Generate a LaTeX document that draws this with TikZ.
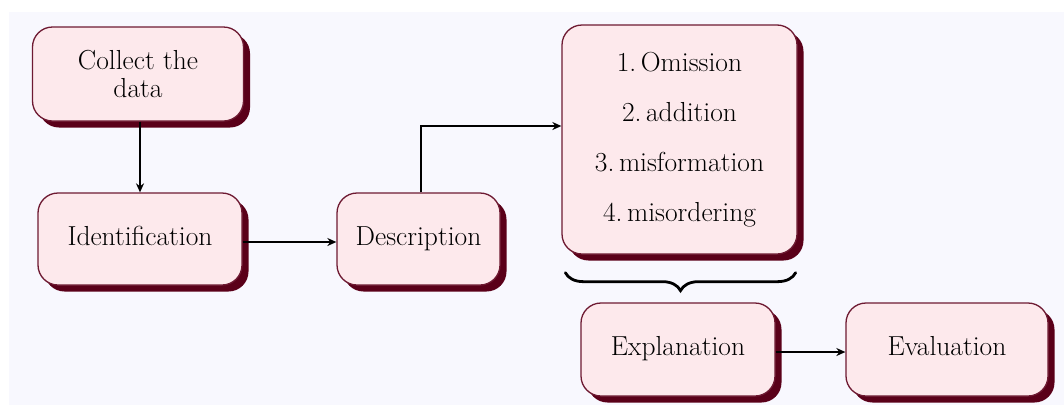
\documentclass[tikz,border=0pt]{standalone}
\usetikzlibrary{shadows,arrows.meta,decorations.pathreplacing}
\definecolor{bgc}{HTML}{F8F8FE}
\definecolor{boxfill}{HTML}{FDE9EC}
\definecolor{boxline}{HTML}{6E1A32}
\definecolor{shadowc}{HTML}{5A0019}
\tikzset{
  stepbox/.style={draw=boxline, line width=1.3pt, fill=boxfill, rounded corners=20pt,
    align=center, font=\fontsize{27.5}{28}\selectfont, inner sep=0pt, text=black,
    drop shadow={shadow xshift=6.5pt, shadow yshift=-6.5pt, fill=shadowc, opacity=1}},
  oneline/.style={text height=18pt, text depth=6pt},
  conn/.style={line width=1.5pt, -{Stealth[length=9pt,width=8pt]}},
  bracestyle/.style={line width=2.8pt, line cap=round, decorate,
    decoration={brace, mirror, amplitude=18pt}}
}
\begin{document}
\begin{tikzpicture}[x=1pt,y=-1pt]
\useasboundingbox (0,0) rectangle (1064,405);
\fill[bgc] (9,12) rectangle (1064,405);
\node[stepbox, minimum width=211pt, minimum height=94pt] (collect) at (138,74) {Collect the\\data};
\node[stepbox, oneline, minimum width=204pt, minimum height=92pt] (ident) at (140,239) {Identification};
\node[stepbox, oneline, minimum width=163pt, minimum height=92pt] (desc) at (418.5,239) {Description};
\node[stepbox, minimum width=235pt, minimum height=229pt, font=\fontsize{27.5}{50}\selectfont] (omit) at (679.5,139.5) {1.\,Omission\\2.\,addition\\3.\,misformation\\4.\,misordering};
\node[stepbox, oneline, minimum width=194pt, minimum height=93pt] (expl) at (678,349.5) {Explanation};
\node[stepbox, oneline, minimum width=202pt, minimum height=93pt] (eval) at (947,349.5) {Evaluation};
\draw[conn] (ident.north |- collect.south) -- (ident.north);
\draw[conn] ([yshift=-3pt]ident.east) -- ([yshift=-3pt]desc.west);
\draw[conn] ([xshift=2.5pt]desc.north) |- ([yshift=13.5pt]omit.west);
\draw[conn] ([yshift=-2.5pt]expl.east) -- ([yshift=-2.5pt]eval.west);
\draw[bracestyle] ([xshift=4pt,yshift=-18pt]omit.south west) -- ([xshift=-2pt,yshift=-18pt]omit.south east);
\end{tikzpicture}
\end{document}
